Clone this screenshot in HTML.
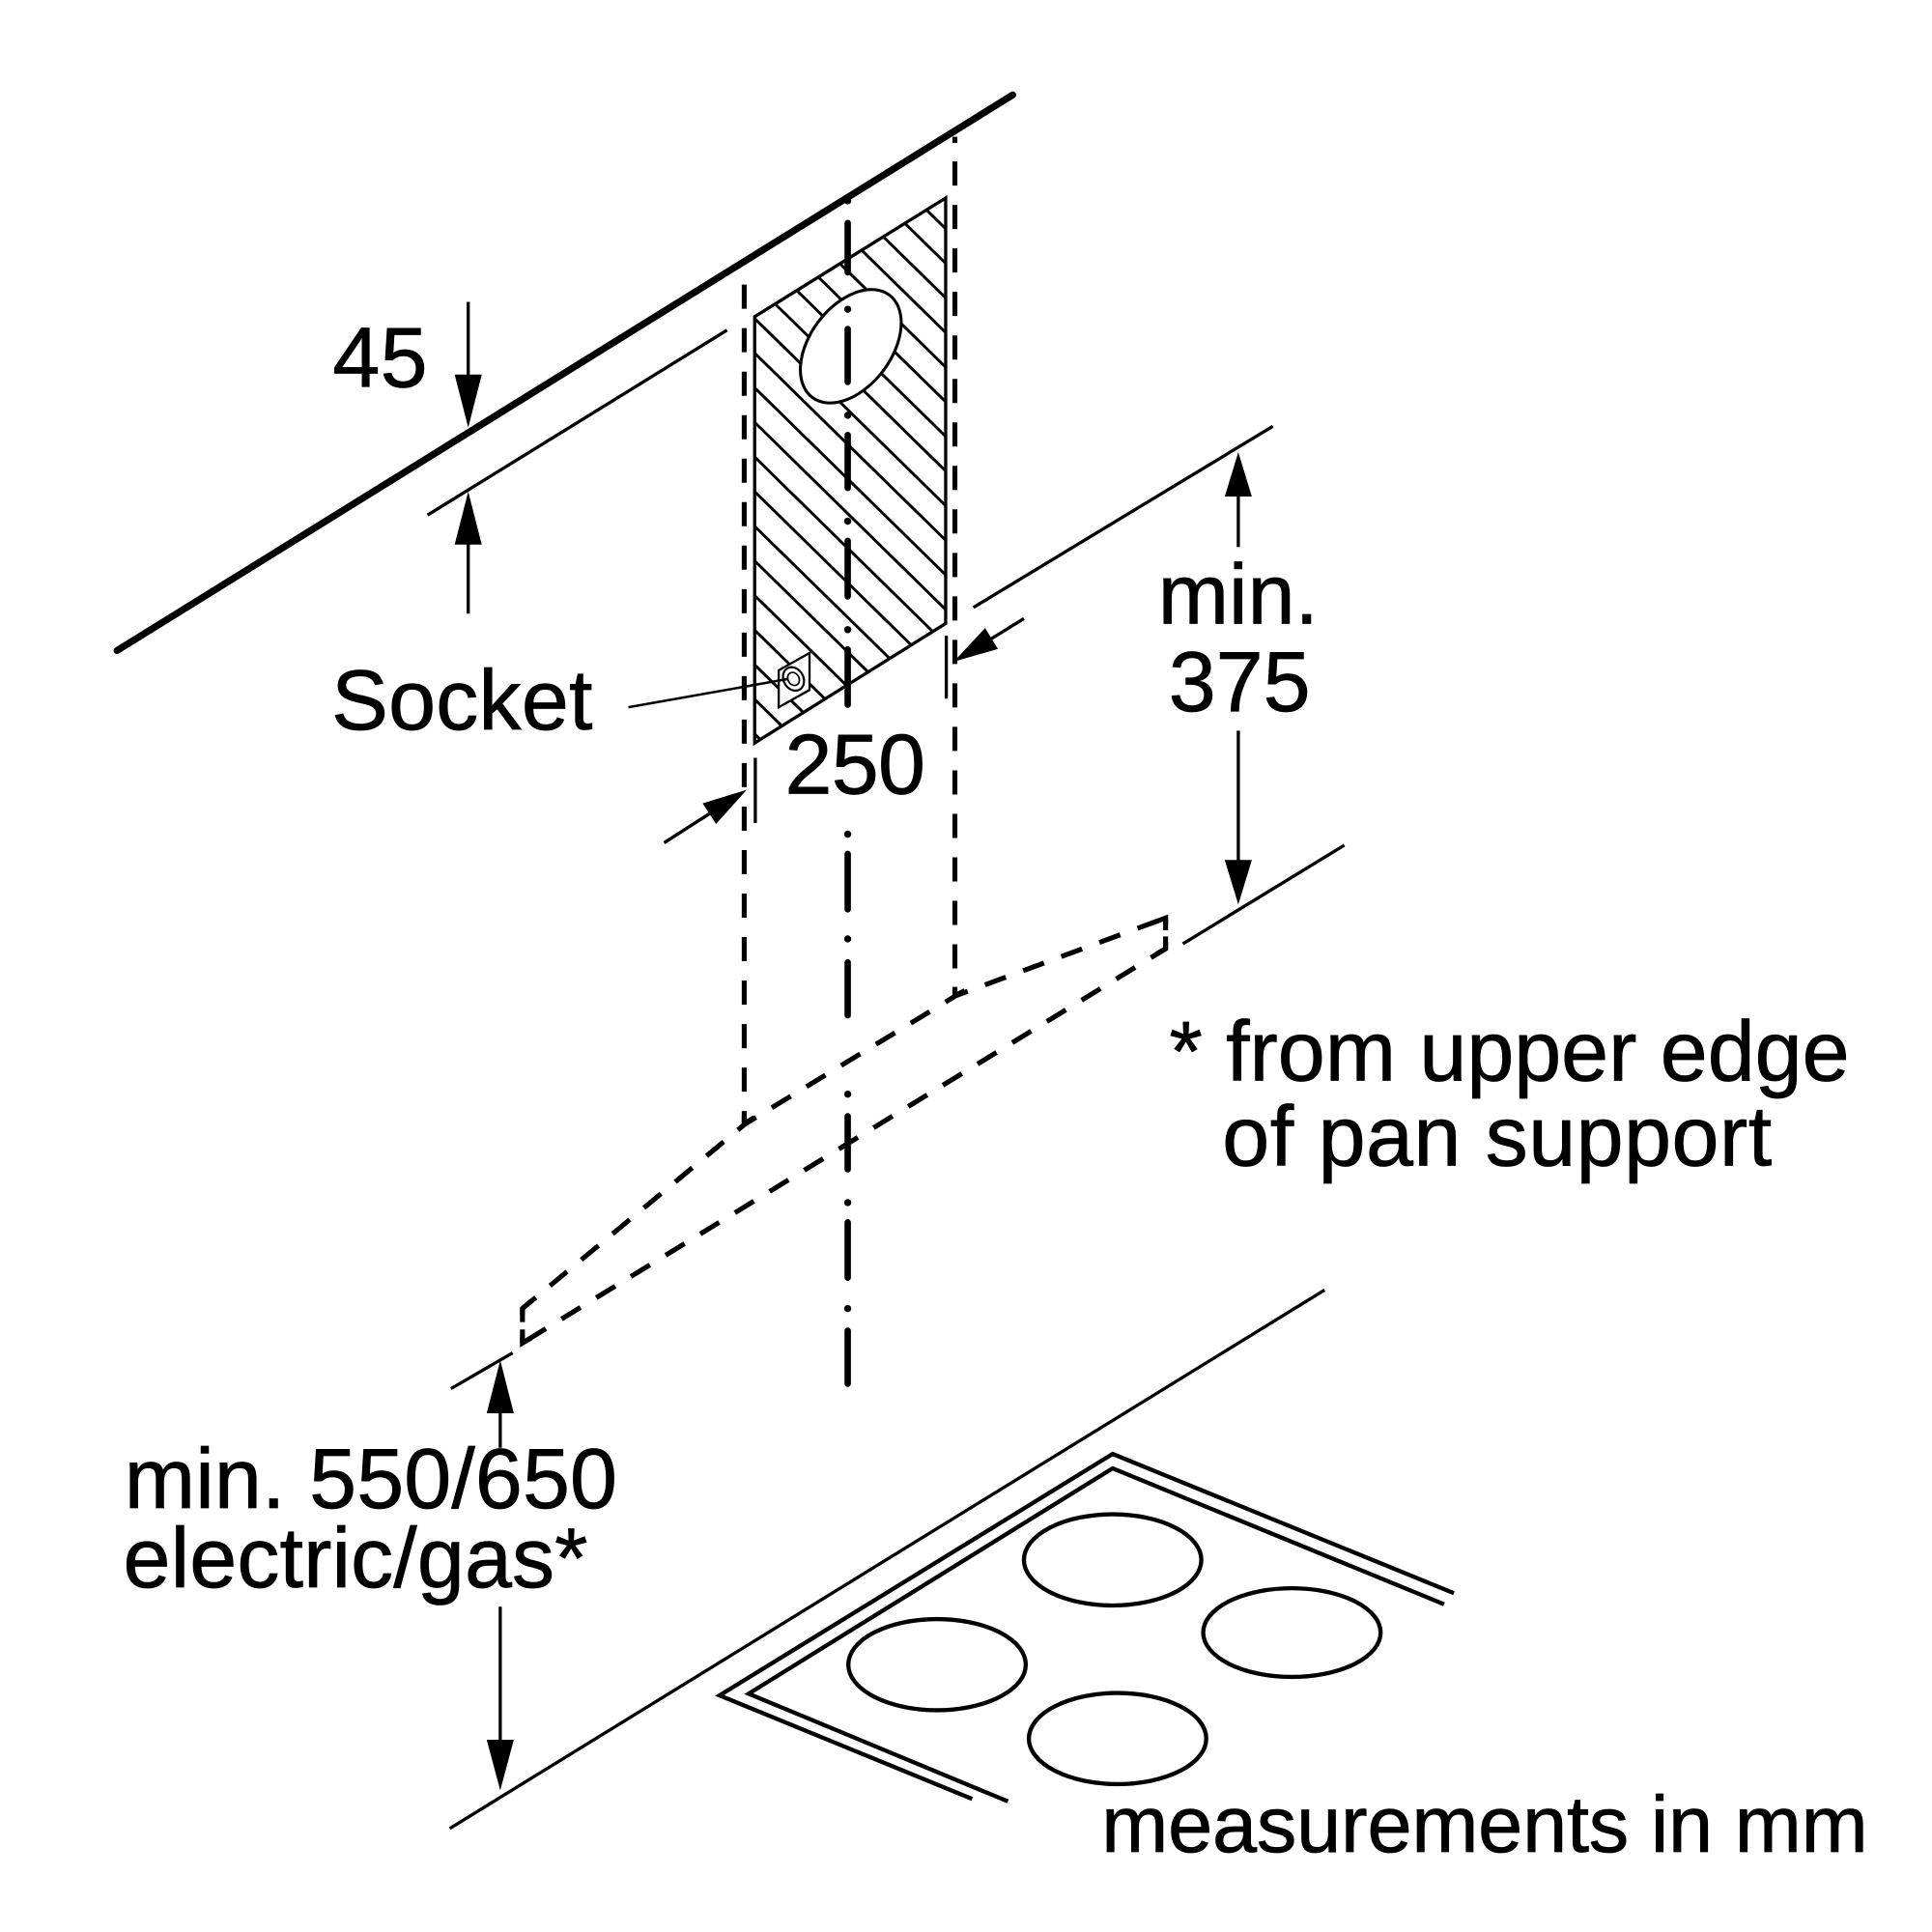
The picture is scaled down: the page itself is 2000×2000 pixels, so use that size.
<!DOCTYPE html>
<html>
<head>
<meta charset="utf-8">
<style>
html,body{margin:0;padding:0;background:#fff;}
svg{display:block;}
text{font-family:"Liberation Sans",Arial,sans-serif;fill:#000;stroke:#000;stroke-width:0.6;}
</style>
</head>
<body>
<svg xmlns="http://www.w3.org/2000/svg" width="2000" height="2000" viewBox="0 0 1568 1568">
<rect x="0" y="0" width="1568" height="1568" fill="#fff"/>
<defs>
<clipPath id="hc"><polygon points="612.5,257 767.5,160.7 767.5,506 612.5,603"/></clipPath>
</defs>

<!-- ceiling line and 45 offset line -->
<line x1="95" y1="528" x2="822" y2="77" stroke="#000" stroke-width="5.6" stroke-linecap="round"/>
<line x1="347" y1="418" x2="590" y2="268" stroke="#000" stroke-width="2.6"/>

<!-- hatching -->
<g clip-path="url(#hc)">
<path d="M600 21.45 l180 176.4 m-180 -148.3 l180 176.4 m-180 -148.3 l180 176.4 m-180 -148.3 l180 176.4 m-180 -148.3 l180 176.4 m-180 -148.3 l180 176.4 m-180 -148.3 l180 176.4 m-180 -148.3 l180 176.4 m-180 -148.3 l180 176.4 m-180 -148.3 l180 176.4 m-180 -148.3 l180 176.4 m-180 -148.3 l180 176.4 m-180 -148.3 l180 176.4 m-180 -148.3 l180 176.4 m-180 -148.3 l180 176.4 m-180 -148.3 l180 176.4 m-180 -148.3 l180 176.4 m-180 -148.3 l180 176.4 m-180 -148.3 l180 176.4 m-180 -148.3 l180 176.4 m-180 -148.3 l180 176.4" stroke="#000" stroke-width="2.3" fill="none"/>
</g>
<polygon points="612.5,257 767.5,160.7 767.5,506 612.5,603" fill="none" stroke="#000" stroke-width="2.6" stroke-linejoin="miter"/>

<!-- duct opening -->
<ellipse cx="690.5" cy="281" rx="52" ry="33" transform="rotate(-53 690.5 281)" fill="#fff" stroke="#000" stroke-width="2.4"/>

<!-- socket -->
<polygon points="632,544 657,530 657,560 632,574" fill="#fff" stroke="#000" stroke-width="1.8"/>
<ellipse cx="644" cy="551" rx="8" ry="10" transform="rotate(-30 644 551)" fill="none" stroke="#000" stroke-width="1.7"/>
<ellipse cx="644" cy="551" rx="4.5" ry="5.5" transform="rotate(-30 644 551)" fill="none" stroke="#000" stroke-width="1.3"/>
<line x1="510" y1="574" x2="640" y2="551" stroke="#000" stroke-width="2"/>

<!-- dashed vertical outlines -->
<g stroke="#000" stroke-width="4" fill="none">
<line x1="604" y1="231" x2="604" y2="912" stroke-dasharray="19.6 15.7"/>
<line x1="775" y1="131" x2="775" y2="808" stroke-dasharray="19.6 15.7"/>
<line x1="775" y1="111" x2="775" y2="116"/>
<!-- hood lower outline -->
<line x1="605" y1="912" x2="424" y2="1062" stroke-dasharray="18 15" stroke-dashoffset="10"/>
<line x1="605" y1="912" x2="776" y2="808" stroke-dasharray="18 15" stroke-dashoffset="8"/>
<line x1="776" y1="808" x2="946" y2="745" stroke-dasharray="18 15" stroke-dashoffset="8"/>
<line x1="946" y1="745" x2="946" y2="770" stroke-dasharray="10 5"/>
<line x1="946" y1="770" x2="424" y2="1090" stroke-dasharray="18 15" stroke-dashoffset="4"/>
<line x1="424" y1="1062" x2="424" y2="1090" stroke-dasharray="11 6"/>
<!-- corner nubs -->
<path d="M604 905 V912 L612 907"/>
<path d="M775 801 V808 L783 804"/>
<path d="M938 748 L946 745 V750"/>
<path d="M946 765 V770 L939 774"/>
<path d="M431 1056 L424 1062 V1067"/>
<path d="M424 1084 V1090 L431 1086"/>
</g>

<!-- center dash-dot line -->
<g stroke="#000" stroke-width="5.2" stroke-linecap="round" fill="none">
<line x1="688" y1="181" x2="688" y2="221"/>
<line x1="688" y1="267" x2="688" y2="310"/>
<line x1="688" y1="353" x2="688" y2="396"/>
<line x1="688" y1="439" x2="688" y2="484"/>
<line x1="688" y1="527" x2="688" y2="572"/>
<line x1="688" y1="693" x2="688" y2="738"/>
<line x1="688" y1="781" x2="688" y2="824"/>
<line x1="688" y1="906" x2="688" y2="949"/>
<line x1="688" y1="992" x2="688" y2="1037"/>
<line x1="688" y1="1080" x2="688" y2="1123"/>
</g>
<g fill="#000">
<circle cx="688" cy="163" r="2.9"/>
<circle cx="688" cy="251" r="2.9"/>
<circle cx="688" cy="337" r="2.9"/>
<circle cx="688" cy="423" r="2.9"/>
<circle cx="688" cy="511" r="2.9"/>
<circle cx="688" cy="677" r="2.9"/>
<circle cx="688" cy="762" r="2.9"/>
<circle cx="688" cy="888" r="2.9"/>
<circle cx="688" cy="976" r="2.9"/>
<circle cx="688" cy="1062" r="2.9"/>
</g>

<!-- dimension lines -->
<g stroke="#000" stroke-width="2.6" fill="none">
<!-- 45 -->
<line x1="380" y1="245" x2="380" y2="310"/>
<line x1="380" y1="437" x2="380" y2="498"/>
<!-- 250 -->
<line x1="613" y1="615" x2="613" y2="668"/>
<line x1="768" y1="516" x2="768" y2="567"/>
<line x1="539" y1="684" x2="578" y2="659"/>
<line x1="831" y1="502" x2="802" y2="520"/>
<!-- 375 -->
<line x1="790" y1="493" x2="1033" y2="346"/>
<line x1="960" y1="766" x2="1091" y2="686"/>
<line x1="1005" y1="398" x2="1005" y2="444"/>
<line x1="1005" y1="593" x2="1005" y2="703"/>
<!-- 550/650 -->
<line x1="366" y1="1127" x2="416" y2="1098"/>
<line x1="406" y1="1142" x2="406" y2="1175"/>
<line x1="406" y1="1304" x2="406" y2="1417"/>
<!-- worktop -->
<line x1="365" y1="1484" x2="1075" y2="1047"/>
</g>

<!-- arrowheads -->
<g fill="#000" stroke="none">
<polygon points="380,347 369,304 391,304"/>
<polygon points="380,399 369,442 391,442"/>
<polygon points="606,641 581.1,668.8 570.3,652"/>
<polygon points="774,537 809.9,526.7 799.5,509.7"/>
<polygon points="1005,367 994,403 1016,403"/>
<polygon points="1005,734 994,698 1016,698"/>
<polygon points="406,1104 395,1147 417,1147"/>
<polygon points="406,1453 395,1412 417,1412"/>
</g>

<!-- cooktop -->
<g stroke="#000" stroke-width="3.4" fill="none" stroke-linejoin="miter">
<polyline points="789,1460 584,1376 903,1180 1180,1293"/>
<polyline points="818,1462 607.6,1374.6 903,1191.7 1172,1302"/>
<ellipse cx="903" cy="1266" rx="72" ry="37"/>
<ellipse cx="760.5" cy="1351" rx="72" ry="37"/>
<ellipse cx="907" cy="1411" rx="72" ry="37"/>
<ellipse cx="1048.5" cy="1325" rx="72" ry="36"/>
</g>

<!-- labels -->
<g font-size="69">
<text x="270" y="314" textLength="77" lengthAdjust="spacing">45</text>
<text x="269" y="592" textLength="212" lengthAdjust="spacing">Socket</text>
<text x="637" y="644" textLength="114" lengthAdjust="spacing">250</text>
<text x="1005" y="506" text-anchor="middle">min.</text>
<text x="1006" y="577" text-anchor="middle">375</text>
<text x="949" y="877" textLength="552" lengthAdjust="spacing">* from upper edge</text>
<text x="992" y="946" textLength="446" lengthAdjust="spacing">of pan support</text>
<text x="101" y="1224" textLength="400" lengthAdjust="spacing">min. 550/650</text>
<text x="100" y="1288" textLength="377" lengthAdjust="spacing">electric/gas*</text>
</g>
<text x="894" y="1503" font-size="65" textLength="622" lengthAdjust="spacing">measurements in mm</text>
</svg>
</body>
</html>
